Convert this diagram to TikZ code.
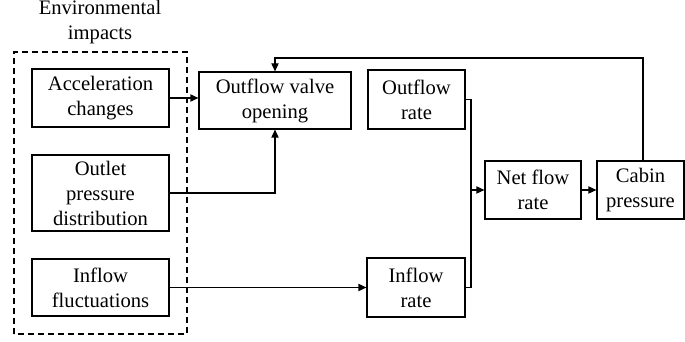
\documentclass[tikz,border=0pt]{standalone}
\usepackage{fontspec}
\setmainfont{Liberation Serif}
\usetikzlibrary{arrows.meta}
\begin{document}
\begin{tikzpicture}[x=0.5pt,y=0.5pt,line width=0.6pt,
  blk/.style={draw,align=center,inner sep=0pt,font=\fontsize{10.3}{12.5}\selectfont},
  arr/.style={-{Triangle[length=4pt,width=3.6pt]}}]
\useasboundingbox (0,0) rectangle (685,342);
\draw[dash pattern=on 3pt off 2pt] (14,8) rectangle (187,290);
\node[align=center,font=\fontsize{10.3}{12.5}\selectfont] (env) at (100,320) {Environmental\\impacts};
\node[blk,minimum width=68.5pt,minimum height=29pt] (acc) at (100.5,244) {Acceleration\\changes};
\node[blk,minimum width=68.5pt,minimum height=38pt] (outlet) at (100.5,149) {Outlet\\pressure\\distribution};
\node[blk,minimum width=68.5pt,minimum height=28.5pt] (influ) at (100.5,54.5) {Inflow\\fluctuations};
\node[blk,minimum width=76pt,minimum height=28.5pt] (valve) at (275,241.5) {Outflow valve\\opening};
\node[blk,minimum width=48.5pt,minimum height=29.5pt] (outrate) at (416.5,242.5) {Outflow\\rate};
\node[blk,minimum width=49pt,minimum height=29.5pt] (inrate) at (416,54.5) {Inflow\\rate};
\node[blk,minimum width=48pt,minimum height=29pt] (net) at (533,152) {Net flow\\rate};
\node[blk,minimum width=43.5pt,minimum height=29pt] (cabin) at (640.5,152) {Cabin\\pressure};
\coordinate (j) at (471,152);
\coordinate (top) at (643,284);
\draw[arr] (acc.east) -- (valve.west |- acc.east);
\draw[arr] (outlet.east) -| (valve.south);
\draw[arr] (influ.east) -- (inrate.west);
\draw (outrate.east) -- (j |- outrate.east) -- (j |- inrate.east) -- (inrate.east);
\draw[arr] (j) -- (net.west);
\draw[arr] (net.east) -- (cabin.west);
\draw[arr] (cabin.north -| top) -- (top) -| (valve.north);
\end{tikzpicture}
\end{document}
